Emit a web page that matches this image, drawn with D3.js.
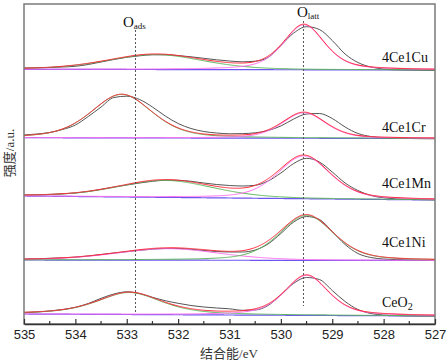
<!DOCTYPE html>
<html><head><meta charset="utf-8">
<script src="https://cdn.jsdelivr.net/npm/d3@7"></script>
<style>html,body{margin:0;padding:0;background:#fff;}svg{display:block;}</style>
</head><body>
<svg id="chart" width="448" height="363"></svg>
<script>
// ---------- DATA ----------
const samples = ["4Ce1Cu", "4Ce1Cr", "4Ce1Mn", "4Ce1Ni", "CeO2"];
const bindingEnergy = [535,534.75,534.5,534.25,534,533.75,533.5,533.25,533,532.75,532.5,532.25,532,531.75,531.5,531.25,531,530.75,530.5,530.25,530,529.75,529.5,529.25,529,528.75,528.5,528.25,528,527.75,527.5,527.25,527];
// raw (stacked) intensities, a.u.
const rawCu = [256,256.2,256.5,257,257.7,259.5,262,264.5,266.7,268.2,269.2,269.2,268.4,267.2,265.7,264.2,263,262.2,262.8,266.5,278.5,291,297.3,294.5,283.5,270,261.5,257,255,254.2,254,253.8,253.7];
const rawCr = [189,190,191.5,194.5,199,207.5,217,226.5,227.8,224.5,217,208,200.5,195.5,192.5,191,190.2,190.4,191.2,193.5,198,205,210,210.5,205.5,197,190.5,187.5,186.2,185.7,185.5,185.3,185.2];
const rawMn = [129,129.2,129.6,130.2,131,132.5,134.7,137,139,141,142.7,143.7,143.7,142.7,141,139.5,138.5,138,138.7,143,151,160.5,165.7,162,152,141,133.5,128.5,126.2,125.2,124.7,124.4,124.2];
const rawNi = [65,65.2,65.7,66.2,66.8,68,69.5,71,72.3,73.7,74.8,75.5,75.5,74.7,73.5,72.5,72,72,74,80,90.5,102,107.5,104.5,92.5,79.5,70.5,66.5,65,64.4,64,63.8,63.7];
const rawCeO2 = [11.3,12,13,14.5,16.7,20.5,25.7,30,32.2,30.5,26.7,23.3,20.7,18.5,17,16,15.2,13.7,14,18.5,29,40.7,46.5,44.5,33.5,22.5,14.5,10.5,9,8.4,8.1,8,8];
const rawSeries = [rawCu, rawCr, rawMn, rawNi, rawCeO2];
// linear background (value at 535 eV and at 527 eV)
const baselineStart = [254.7, 186.3, 128, 64, 10];
const baselineEnd   = [254, 185.5, 124, 63.5, 8];
// fitted components: O_ads and O_latt (centre eV, height, FWHM eV, Lorentzian fraction)
const oadsCenter  = [532.45, 533.1, 532.25, 532.2, 532.95];
const oadsHeight  = [15, 43.5, 17, 11.5, 22];
const oadsFwhm    = [2.2, 1.4, 2.2, 2.4, 1.5];
const oadsEta     = [0.3, 0.4, 0.3, 0.3, 0.6];
const olattCenter = [529.55, 529.55, 529.55, 529.5, 529.5];
const olattHeight = [45, 25.5, 42.8, 45, 40];
const olattFwhm   = [0.95, 1.0, 1.2, 1.25, 1.0];
const olattEta    = [0.5, 0.4, 0.4, 0.4, 0.5];
const xTicks = [535, 534, 533, 532, 531, 530, 529, 528, 527];
const xMinorTicks = [534.5, 533.5, 532.5, 531.5, 530.5, 529.5, 528.5, 527.5];
const refLines = [{name:"ads", eV:532.83}, {name:"latt", eV:529.56}];

// ---------- STYLE / LAYOUT ----------
const C = {raw:"#555555", fit:"#ff2a3a", green:"#5cb85c", magenta:"#ff70ef", base:"#6f55f0"};
const oadsColor  = [C.green, C.green, C.green, C.magenta, C.green];
const olattColor = [C.magenta, C.magenta, C.magenta, C.green, C.magenta];
const labelDy = [12.5, 11, 17, 18, 14];
const M = {l:24, r:435, t:4, b:324};

const svg = d3.select("#chart");
const x = d3.scaleLinear().domain([535, 527]).range([M.l, M.r]);
const y = d3.scaleLinear().domain([0, 320]).range([M.b, M.t]);

svg.append("defs").append("clipPath").attr("id","clip")
  .append("rect").attr("x",M.l).attr("y",M.t).attr("width",M.r-M.l).attr("height",M.b-M.t);

function pv(e, c, h, w, eta){
  const d = e - c;
  const g = Math.exp(-4*Math.LN2*d*d/(w*w));
  const l = 1/(1 + 4*d*d/(w*w));
  return h*(eta*l + (1-eta)*g);
}
const grid = d3.range(0, 401).map(i => 535 - i*0.02);
const line = d3.line().x(d=>x(d[0])).y(d=>y(d[1])).curve(d3.curveMonotoneX);

const plot = svg.append("g").attr("clip-path","url(#clip)");

// reference dashed lines
refLines.forEach((r,i)=>{
  svg.append("line").attr("x1",x(r.eV)).attr("x2",x(r.eV))
    .attr("y1", i===0 ? 30 : 21).attr("y2", i===0 ? 313 : 306)
    .attr("stroke","#555").attr("stroke-width",1).attr("stroke-dasharray","2,2");
});

samples.forEach((s,i)=>{
  const bl = e => baselineStart[i] + (baselineEnd[i]-baselineStart[i])*(535-e)/8;
  const a = e => pv(e, oadsCenter[i], oadsHeight[i], oadsFwhm[i], oadsEta[i]);
  const b = e => pv(e, olattCenter[i], olattHeight[i], olattFwhm[i], olattEta[i]);
  plot.append("path").datum(grid.map(e=>[e, bl(e)])).attr("d",line)
    .attr("fill","none").attr("stroke",C.base).attr("stroke-width",1.2);
  plot.append("path").datum(bindingEnergy.map((e,k)=>[e, rawSeries[i][k]])).attr("d",line)
    .attr("fill","none").attr("stroke",C.raw).attr("stroke-width",1);
  plot.append("path").datum(grid.map(e=>[e, bl(e)+a(e)])).attr("d",line)
    .attr("fill","none").attr("stroke",oadsColor[i]).attr("stroke-width",1);
  plot.append("path").datum(grid.map(e=>[e, bl(e)+b(e)])).attr("d",line)
    .attr("fill","none").attr("stroke",olattColor[i]).attr("stroke-width",1);
  plot.append("path").datum(grid.map(e=>[e, bl(e)+a(e)+b(e)])).attr("d",line)
    .attr("fill","none").attr("stroke",C.fit).attr("stroke-width",1);
  // sample label
  const t = svg.append("text").attr("x",382).attr("y", y(baselineEnd[i]) - labelDy[i])
    .attr("dominant-baseline","central")
    .style("font-family","'Liberation Serif','Times New Roman',serif").style("font-size","14px").attr("fill","#111");
  if (s === "CeO2") { t.text("CeO"); t.append("tspan").attr("font-size","10px").attr("dy",4).text("2"); }
  else t.text(s);
});

// O labels
[[123, 27, "ads"], [297, 17, "latt"]].forEach(([lx, ly, sub])=>{
  const t = svg.append("text").attr("x",lx).attr("y",ly)
    .style("font-family","'Liberation Serif','Times New Roman',serif").style("font-size","15px").attr("fill","#111").text("O");
  t.append("tspan").attr("font-size","9px").attr("dy",2).text(sub);
});

// frame
svg.append("rect").attr("x",M.l).attr("y",M.t).attr("width",M.r-M.l).attr("height",M.b-M.t)
  .attr("fill","none").attr("stroke","#7a7a7a").attr("stroke-width",1.5);

// bottom axis
const ax = svg.append("g").attr("transform",`translate(0,${M.b})`)
  .call(d3.axisBottom(x).tickValues(xTicks).tickFormat(d3.format("d")).tickSizeInner(-5).tickSizeOuter(0).tickPadding(6));
ax.select(".domain").attr("stroke","#333").attr("stroke-width",1.6);
ax.selectAll(".tick line").attr("stroke","#333").attr("stroke-width",1.2);
ax.selectAll(".tick text").style("font-family","'Liberation Sans',Arial,sans-serif").style("font-size","13px").attr("fill","#222");
svg.append("g").selectAll("line").data(xMinorTicks).join("line")
  .attr("x1",d=>x(d)).attr("x2",d=>x(d)).attr("y1",M.b).attr("y2",M.b-3)
  .attr("stroke","#333").attr("stroke-width",1.2);

// axis titles
const xt = svg.append("text").attr("x",229).attr("y",358).attr("text-anchor","middle").attr("fill","#333")
  .style("font-size","13px");
xt.append("tspan").style("font-family","'Noto Sans CJK SC',sans-serif").text("结合能");
xt.append("tspan").style("font-family","'Liberation Serif',serif").text("/eV");
const yt = svg.append("text").attr("transform","translate(14,153) rotate(-90)").attr("text-anchor","middle").attr("fill","#333")
  .style("font-size","13px");
yt.append("tspan").style("font-family","'Noto Sans CJK SC',sans-serif").text("强度");
yt.append("tspan").style("font-family","'Liberation Serif',serif").text("/a.u.");
</script>
</body></html>
